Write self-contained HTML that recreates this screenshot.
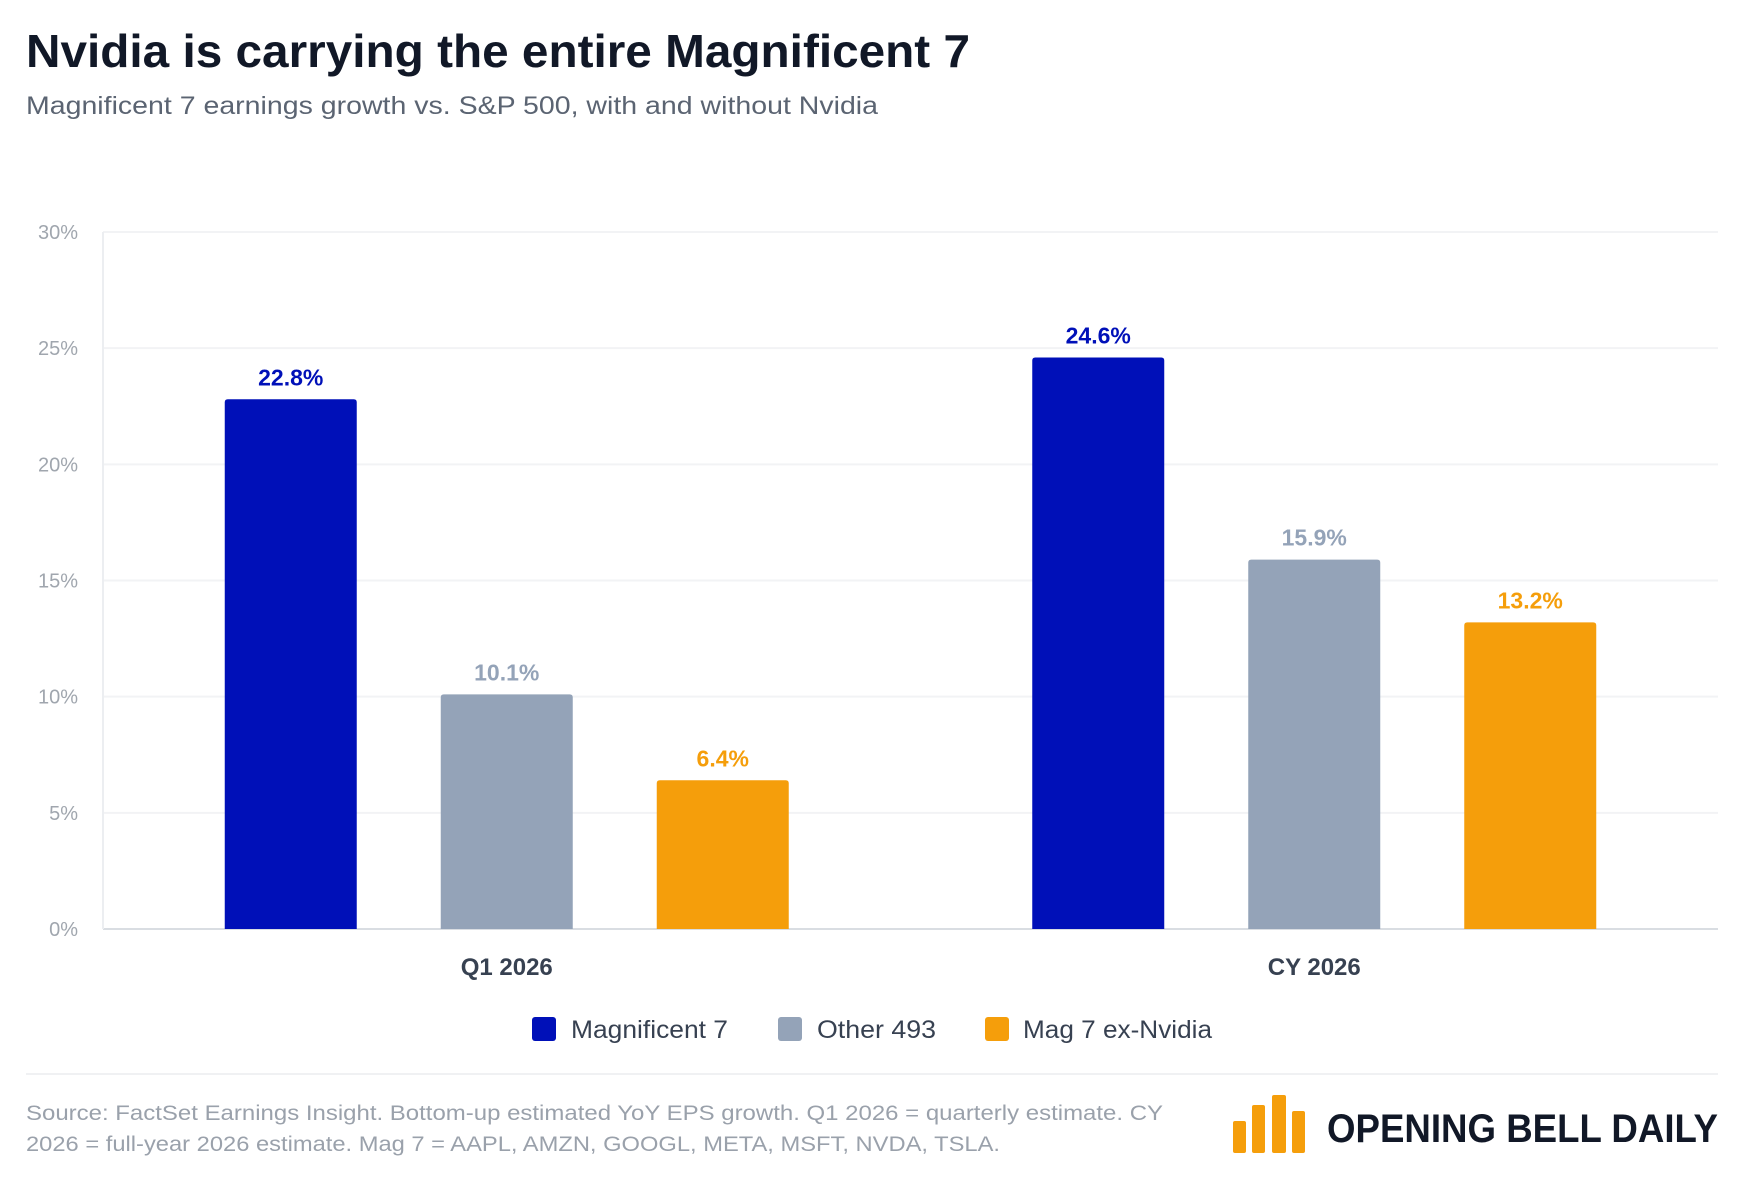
<!DOCTYPE html>
<html><head><meta charset="utf-8"><style>
html,body{margin:0;padding:0;background:#fff;}
svg{display:block;font-family:"Liberation Sans",sans-serif;}
</style></head><body>
<svg id="chart" width="1752" height="1184" viewBox="0 0 1752 1184">
<text x="26" y="67" font-size="46" font-weight="bold" fill="#111827" textLength="944" lengthAdjust="spacingAndGlyphs">Nvidia is carrying the entire Magnificent 7</text>
<text x="26" y="114" font-size="25" fill="#5b6472" textLength="852" lengthAdjust="spacingAndGlyphs">Magnificent 7 earnings growth vs. S&amp;P 500, with and without Nvidia</text>
<g id="grid"></g>
<g id="bars"></g>
<g id="legend">
<rect x="532" y="1017" width="24" height="24" rx="3" fill="#0010b8"/>
<text x="571" y="1038" font-size="25" fill="#374151" textLength="157" lengthAdjust="spacingAndGlyphs">Magnificent 7</text>
<rect x="778" y="1017" width="24" height="24" rx="3" fill="#94a3b8"/>
<text x="817" y="1038" font-size="25" fill="#374151" textLength="119" lengthAdjust="spacingAndGlyphs">Other 493</text>
<rect x="985" y="1017" width="24" height="24" rx="3" fill="#f59e0b"/>
<text x="1023" y="1038" font-size="25" fill="#374151" textLength="189" lengthAdjust="spacingAndGlyphs">Mag 7 ex-Nvidia</text>
</g>
<line x1="26" y1="1074" x2="1718" y2="1074" stroke="#f0f1f3" stroke-width="2"/>
<text x="26" y="1120" font-size="21" fill="#9aa1ab" textLength="1137" lengthAdjust="spacingAndGlyphs">Source: FactSet Earnings Insight. Bottom-up estimated YoY EPS growth. Q1 2026 = quarterly estimate. CY</text>
<text x="26" y="1151" font-size="21" fill="#9aa1ab" textLength="974" lengthAdjust="spacingAndGlyphs">2026 = full-year 2026 estimate. Mag 7 = AAPL, AMZN, GOOGL, META, MSFT, NVDA, TSLA.</text>
<g>
<rect x="1233" y="1121" width="13" height="32" rx="2" fill="#f59e0b"/>
<rect x="1252" y="1105" width="13" height="48" rx="2" fill="#f59e0b"/>
<rect x="1272" y="1095" width="14" height="58" rx="2" fill="#f59e0b"/>
<rect x="1292" y="1111" width="13" height="42" rx="2" fill="#f59e0b"/>
<text x="1327" y="1142" font-size="40" font-weight="bold" fill="#111827" textLength="391" lengthAdjust="spacingAndGlyphs">OPENING BELL DAILY</text>
</g>
</svg>
<script>
const categories = ["Q1 2026", "CY 2026"];
const seriesNames = ["Magnificent 7", "Other 493", "Mag 7 ex-Nvidia"];
const mag7Values = [22.8, 24.6];
const other493Values = [10.1, 15.9];
const exNvidiaValues = [6.4, 13.2];
const yTicks = [0, 5, 10, 15, 20, 25, 30];
const tickLabels = ["0%", "5%", "10%", "15%", "20%", "25%", "30%"];

const NS = "http://www.w3.org/2000/svg";
const plotL = 103, plotR = 1718, plotT = 232, plotB = 929, yMax = 30;
const y = v => plotB - (v / yMax) * (plotB - plotT);
const groupW = (plotR - plotL) / categories.length;
const barW = 132, barStep = 216;
const x = (ci, si) => plotL + groupW * (ci + 0.5) + (si - 1) * barStep - barW / 2;
const colors = ["#0010b8", "#94a3b8", "#f59e0b"];
const labelColors = ["#0010b8", "#94a3b8", "#f59e0b"];
const series = [mag7Values, other493Values, exNvidiaValues];
const slug = ["magnificent-7", "other-493", "mag7-ex-nvidia"];

function mk(tag, attrs, parent) {
  const e = document.createElementNS(NS, tag);
  for (const k in attrs) e.setAttribute(k, attrs[k]);
  parent.appendChild(e);
  return e;
}
const grid = document.getElementById("grid");
const bars = document.getElementById("bars");
yTicks.forEach((t, i) => {
  const gl = mk("line", {x1: plotL, x2: plotR, y1: y(t), y2: y(t), stroke: t === 0 ? "#d9dde2" : "#f2f3f5", "stroke-width": 2}, grid);
  
  
  const tl = mk("text", {x: 78, y: y(t) + 7, "font-size": 20, fill: "#a0a6ae", "text-anchor": "end"}, grid);
  tl.textContent = tickLabels[i];
  
  
});
const ax = mk("line", {x1: plotL, x2: plotL, y1: plotT, y2: plotB, stroke: "#eceef1", "stroke-width": 2}, grid);


categories.forEach((c, ci) => {
  series.forEach((vals, si) => {
    const v = vals[ci];
    const r = mk("path", {fill: colors[si]}, bars);
    const x0 = x(ci, si), y0 = y(v), rr = 3;
    r.setAttribute("d", `M${x0},${plotB} V${y0 + rr} Q${x0},${y0} ${x0 + rr},${y0} H${x0 + barW - rr} Q${x0 + barW},${y0} ${x0 + barW},${y0 + rr} V${plotB} Z`);
    
    
    const lb = mk("text", {x: x0 + barW / 2, y: y0 - 14, "font-size": 23, "font-weight": "bold", fill: labelColors[si], "text-anchor": "middle"}, bars);
    lb.textContent = v.toFixed(1) + "%";
    
    
  });
  const cl = mk("text", {x: plotL + groupW * (ci + 0.5), y: 975, "font-size": 24, "font-weight": "bold", fill: "#374151", "text-anchor": "middle"}, bars);
  cl.textContent = c;
  
  
});
</script>
</body></html>
